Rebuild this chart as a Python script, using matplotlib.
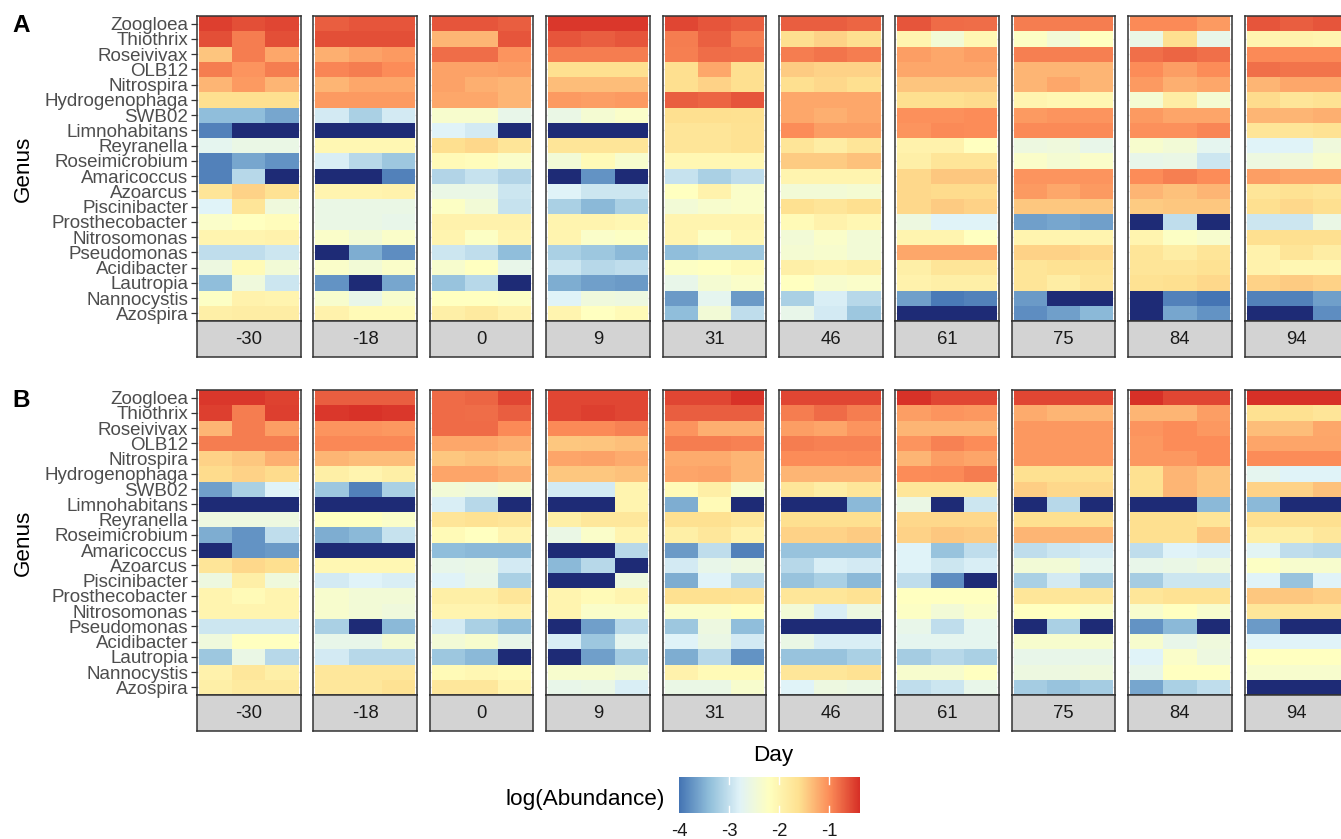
import numpy as np
import matplotlib
matplotlib.use("Agg")
import matplotlib.pyplot as plt
from matplotlib.colors import LinearSegmentedColormap, Normalize

plt.rcParams["font.family"] = ["Liberation Sans", "DejaVu Sans"]

genera = ["Zoogloea", "Thiothrix", "Roseivivax", "OLB12", "Nitrospira",
          "Hydrogenophaga", "SWB02", "Limnohabitans", "Reyranella",
          "Roseimicrobium", "Amaricoccus", "Azoarcus", "Piscinibacter",
          "Prosthecobacter", "Nitrosomonas", "Pseudomonas", "Acidibacter",
          "Lautropia", "Nannocystis", "Azospira"]
days = ["-30", "-18", "0", "9", "31", "46", "61", "75", "84", "94"]

NA = None  # genus not detected (log of zero abundance)

# ---- panel A: log(Abundance), rows follow `genera`, three replicates per day
a_m30 = [[-0.50, -0.60, -0.55], [-0.60, -0.90, -0.60], [-1.40, -0.90, -1.20],
         [-0.90, -1.05, -0.90], [-1.30, -1.10, -1.30], [-1.60, -1.60, -1.60],
         [-3.40, -3.40, -3.60], [-3.90, NA, NA], [-2.70, -2.60, -2.60],
         [-3.90, -3.60, -3.75], [-3.90, -3.10, NA], [-1.70, -1.50, -1.65],
         [-2.80, -1.70, -2.50], [-2.30, -2.20, -2.15], [-2.00, -2.00, -1.95],
         [-3.05, -3.05, -2.95], [-2.55, -2.10, -2.45], [-3.40, -2.50, -2.95],
         [-2.25, -1.95, -2.00], [-1.90, -1.85, -1.85]]
a_m18 = [[-0.70, -0.65, -0.65], [-0.60, -0.60, -0.60], [-1.25, -1.15, -1.10],
         [-0.95, -0.90, -1.00], [-1.30, -1.20, -1.20], [-1.10, -1.10, -1.10],
         [-2.90, -3.20, -2.90], [NA, NA, NA], [-2.05, -2.05, -2.05],
         [-2.85, -3.10, -3.30], [NA, NA, -3.90], [-2.00, -2.00, -1.95],
         [-2.60, -2.60, -2.60], [-2.60, -2.60, -2.65], [-2.30, -2.45, -2.30],
         [NA, -3.55, -3.80], [-2.30, -2.45, -2.30], [-3.75, NA, -3.60],
         [-2.35, -2.65, -2.35], [-1.95, -2.10, -2.10]]
a_0 = [[-0.65, -0.65, -0.70], [-1.30, -1.30, -0.65], [-0.80, -0.80, -1.05],
       [-1.15, -1.15, -1.12], [-1.15, -1.25, -1.30], [-1.20, -1.20, -1.30],
       [-2.35, -2.35, -2.65], [-2.80, -2.90, NA], [-1.60, -1.55, -1.70],
       [-2.10, -2.15, -2.30], [-3.15, -3.00, -3.15], [-2.60, -2.60, -2.95],
       [-2.25, -2.45, -3.00], [-1.95, -1.95, -1.95], [-2.00, -2.25, -2.00],
       [-2.95, -3.05, -3.40], [-2.35, -2.20, -2.65], [-3.35, -3.10, NA],
       [-2.20, -2.20, -2.25], [-1.90, -1.80, -1.95]]
a_9 = [[-0.45, -0.45, -0.45], [-0.65, -0.70, -0.65], [-0.90, -0.90, -0.90],
       [-1.60, -1.60, -1.60], [-1.35, -1.35, -1.35], [-1.10, -1.12, -1.10],
       [-2.60, -2.40, -2.30], [NA, NA, NA], [-1.70, -1.70, -1.70],
       [-2.45, -2.10, -2.35], [NA, -3.75, NA], [-2.80, -2.95, -2.95],
       [-3.20, -3.45, -3.20], [-2.00, -2.00, -2.05], [-2.00, -2.30, -2.25],
       [-3.20, -3.30, -3.45], [-2.95, -3.10, -3.05], [-3.55, -3.65, -3.70],
       [-2.80, -2.50, -2.55], [-2.00, -2.20, -2.10]]
a_31 = [[-0.55, -0.65, -0.70], [-0.90, -0.72, -0.90], [-0.92, -0.80, -0.82],
        [-1.60, -1.20, -1.60], [-1.60, -1.50, -1.60], [-0.70, -0.75, -0.65],
        [-1.60, -1.60, -1.62], [-1.70, -1.70, -1.65], [-1.70, -1.70, -1.65],
        [-2.05, -2.05, -2.05], [-3.00, -3.20, -3.05], [-2.20, -1.95, -2.30],
        [-2.45, -2.35, -2.30], [-2.00, -2.00, -2.00], [-2.00, -2.25, -2.05],
        [-3.40, -3.30, -3.30], [-2.25, -2.20, -2.10], [-2.65, -2.40, -2.30],
        [-3.70, -2.70, -3.70], [-3.40, -2.45, -3.05]]
a_46 = [[-0.70, -0.70, -0.75], [-1.60, -1.50, -1.60], [-0.90, -0.85, -0.90],
        [-1.45, -1.50, -1.50], [-1.60, -1.55, -1.60], [-1.20, -1.20, -1.20],
        [-1.20, -1.25, -1.20], [-1.00, -1.12, -1.12], [-1.70, -1.85, -1.70],
        [-1.45, -1.45, -1.38], [-2.00, -2.00, -2.00], [-2.45, -2.45, -2.40],
        [-1.62, -1.70, -1.60], [-2.10, -1.95, -2.05], [-2.45, -2.30, -2.45],
        [-2.40, -2.35, -2.45], [-1.90, -1.95, -1.90], [-2.20, -2.35, -2.30],
        [-3.20, -2.85, -3.10], [-2.65, -2.90, -3.30]]
a_61 = [[-0.65, -0.78, -0.80], [-2.00, -2.45, -2.05], [-1.12, -1.20, -1.12],
        [-1.20, -1.20, -1.20], [-1.40, -1.40, -1.40], [-1.60, -1.60, -1.58],
        [-1.02, -1.02, -1.00], [-1.05, -0.98, -1.00], [-1.95, -1.95, -2.20],
        [-1.90, -1.70, -1.70], [-1.55, -1.42, -1.42], [-1.55, -1.58, -1.58],
        [-1.55, -1.45, -1.50], [-2.55, -2.80, -2.80], [-2.00, -2.00, -2.20],
        [-1.20, -1.20, -1.20], [-1.90, -1.70, -1.70], [-1.95, -1.90, -1.90],
        [-3.65, -3.95, -3.90], [NA, NA, NA]]
a_75 = [[-0.90, -0.90, -0.90], [-2.25, -2.45, -2.20], [-0.92, -0.92, -0.92],
        [-1.30, -1.30, -1.30], [-1.30, -1.20, -1.30], [-2.00, -2.05, -2.05],
        [-1.10, -1.05, -1.05], [-0.98, -0.98, -0.98], [-2.55, -2.50, -2.65],
        [-2.30, -2.40, -2.30], [-1.05, -1.05, -1.05], [-1.10, -1.20, -1.10],
        [-1.42, -1.42, -1.42], [-3.65, -3.60, -3.65], [-2.00, -2.00, -2.00],
        [-1.50, -1.50, -1.55], [-1.70, -1.65, -1.65], [-1.70, -1.85, -1.70],
        [-3.70, NA, NA], [-3.80, -3.65, -3.45]]
a_84 = [[-0.98, -0.98, -1.10], [-2.60, -1.60, -2.65], [-0.82, -0.75, -0.82],
        [-1.00, -1.12, -1.00], [-1.10, -1.25, -1.20], [-2.40, -1.85, -2.40],
        [-1.10, -1.18, -1.18], [-1.02, -1.02, -0.95], [-2.35, -2.45, -2.70],
        [-2.65, -2.60, -2.95], [-1.00, -0.92, -1.00], [-1.30, -1.38, -1.30],
        [-1.45, -1.42, -1.42], [NA, -3.05, NA], [-2.00, -2.25, -2.35],
        [-1.70, -1.85, -1.70], [-1.70, -1.70, -1.65], [-1.65, -1.60, -1.55],
        [NA, -3.90, -4.00], [NA, -3.60, -3.75]]
a_94 = [[-0.65, -0.70, -0.65], [-2.00, -1.95, -2.00], [-0.98, -0.98, -0.98],
        [-0.82, -0.85, -0.85], [-1.30, -1.20, -1.20], [-1.58, -1.70, -1.65],
        [-1.30, -1.30, -1.25], [-1.70, -1.70, -1.65], [-2.80, -2.80, -2.50],
        [-2.55, -2.50, -2.35], [-1.12, -1.18, -1.18], [-1.70, -1.65, -1.70],
        [-1.60, -1.55, -1.60], [-2.95, -2.95, -2.60], [-1.60, -1.60, -1.60],
        [-1.95, -1.70, -1.85], [-1.95, -2.05, -2.05], [-1.50, -1.45, -1.50],
        [-3.90, -3.90, -3.65], [NA, NA, -3.80]]

# ---- panel B
b_m30 = [[-0.45, -0.45, -0.52], [-0.50, -0.90, -0.50], [-1.30, -0.90, -1.12],
         [-0.90, -0.90, -0.90], [-1.50, -1.42, -1.25], [-1.58, -1.50, -1.58],
         [-3.65, -3.20, -2.80], [NA, NA, NA], [-2.55, -2.55, -2.55],
         [-3.55, -3.75, -3.05], [NA, -3.75, -3.70], [-1.70, -1.55, -1.60],
         [-2.55, -1.90, -2.50], [-2.00, -2.10, -2.00], [-2.00, -2.00, -2.00],
         [-2.95, -2.95, -2.95], [-2.50, -2.20, -2.20], [-3.30, -2.60, -3.10],
         [-1.95, -1.75, -1.90], [-1.90, -1.80, -1.80]]
b_m18 = [[-0.70, -0.70, -0.70], [-0.45, -0.42, -0.45], [-1.05, -1.05, -1.08],
         [-0.97, -0.97, -0.97], [-1.30, -1.35, -1.35], [-1.88, -2.00, -1.88],
         [-3.30, -3.90, -3.20], [NA, NA, NA], [-2.20, -2.20, -2.30],
         [-3.55, -3.45, -3.00], [NA, NA, NA], [-2.05, -2.05, -2.05],
         [-2.90, -2.80, -2.85], [-2.35, -2.45, -2.45], [-2.35, -2.45, -2.50],
         [-3.20, NA, -3.45], [-2.65, -2.65, -2.40], [-2.90, -3.10, -3.10],
         [-1.75, -1.75, -1.75], [-1.75, -1.75, -1.65]]
b_0 = [[-0.78, -0.75, -0.55], [-0.78, -0.80, -0.70], [-0.78, -0.78, -0.98],
       [-1.20, -1.20, -1.25], [-1.42, -1.38, -1.42], [-1.18, -1.18, -1.25],
       [-2.45, -2.50, -2.40], [-2.85, -3.10, NA], [-1.70, -1.65, -1.70],
       [-2.10, -2.20, -2.00], [-3.40, -3.45, -3.45], [-2.65, -2.60, -2.90],
       [-2.80, -2.65, -3.20], [-1.88, -1.88, -1.72], [-2.00, -2.00, -1.95],
       [-2.90, -3.20, -3.40], [-2.45, -2.35, -2.65], [-3.30, -3.45, NA],
       [-2.10, -2.05, -2.10], [-1.75, -1.75, -2.00]]
b_9 = [[-0.55, -0.55, -0.55], [-0.55, -0.50, -0.55], [-0.98, -0.98, -0.93],
       [-1.42, -1.40, -1.37], [-1.18, -1.15, -1.22], [-1.42, -1.42, -1.38],
       [-2.90, -2.90, -2.00], [NA, NA, -2.00], [-1.88, -1.75, -1.75],
       [-2.60, -2.30, -2.00], [NA, NA, -3.10], [-3.45, -3.10, NA],
       [NA, NA, -2.55], [-2.00, -2.10, -2.00], [-2.00, -2.30, -2.30],
       [NA, -3.65, -3.10], [-2.85, -3.30, -2.70], [NA, -3.65, -3.25],
       [-2.35, -2.35, -2.45], [-2.65, -2.60, -2.85]]
b_31 = [[-0.55, -0.55, -0.42], [-0.70, -0.70, -0.70], [-1.05, -1.25, -1.25],
        [-0.90, -0.90, -0.93], [-1.22, -1.22, -1.30], [-1.18, -1.15, -1.30],
        [-2.10, -1.88, -2.35], [-3.55, -2.10, NA], [-1.62, -1.62, -1.72],
        [-1.88, -1.75, -1.95], [-3.70, -3.05, -3.90], [-2.90, -2.65, -2.55],
        [-3.55, -2.80, -3.10], [-1.62, -1.62, -1.65], [-2.30, -2.30, -2.20],
        [-3.30, -2.55, -3.40], [-2.80, -2.60, -2.90], [-3.55, -3.10, -3.75],
        [-1.95, -2.10, -2.10], [-2.60, -2.60, -2.35]]
b_46 = [[-0.55, -0.55, -0.55], [-0.90, -0.78, -0.90], [-1.12, -1.18, -1.05],
        [-0.90, -0.93, -0.93], [-1.00, -1.00, -0.98], [-1.30, -1.30, -1.30],
        [-1.72, -1.85, -1.72], [NA, NA, -3.45], [-1.60, -1.60, -1.60],
        [-1.50, -1.50, -1.45], [-3.35, -3.35, -3.35], [-3.10, -2.85, -2.90],
        [-3.35, -3.20, -3.45], [-1.72, -1.72, -1.65], [-2.45, -2.85, -2.55],
        [NA, NA, NA], [-2.60, -2.85, -2.85], [-3.35, -3.35, -3.20],
        [-1.72, -1.72, -1.65], [-2.80, -2.55, -2.60]]
b_61 = [[-0.42, -0.55, -0.55], [-1.12, -1.05, -1.08], [-1.30, -1.30, -1.30],
        [-1.05, -0.93, -1.00], [-1.30, -1.12, -1.18], [-1.00, -0.98, -0.90],
        [-1.72, -1.72, -1.72], [-2.60, NA, -2.95], [-1.55, -1.55, -1.55],
        [-1.50, -1.42, -1.45], [-2.80, -3.35, -3.05], [-2.80, -2.95, -2.85],
        [-3.05, -3.80, NA], [-2.20, -2.20, -2.20], [-2.25, -2.45, -2.30],
        [-2.65, -3.05, -2.70], [-2.70, -2.70, -2.70], [-3.25, -3.10, -3.20],
        [-2.35, -2.35, -2.20], [-3.05, -2.95, -2.65]]
b_75 = [[-0.55, -0.55, -0.55], [-1.22, -1.30, -1.30], [-1.08, -1.08, -1.08],
        [-1.08, -1.08, -1.08], [-1.08, -1.08, -1.08], [-1.62, -1.62, -1.62],
        [-1.47, -1.55, -1.55], [NA, -3.10, NA], [-1.60, -1.60, -1.60],
        [-1.30, -1.30, -1.30], [-3.05, -2.95, -2.90], [-2.45, -2.45, -2.70],
        [-3.20, -2.90, -3.25], [-1.72, -1.72, -1.72], [-2.20, -2.20, -2.30],
        [NA, -3.20, NA], [-2.35, -2.35, -2.35], [-2.65, -2.65, -2.65],
        [-2.55, -2.55, -2.50], [-3.25, -3.35, -3.25]]
b_84 = [[-0.35, -0.55, -0.55], [-1.30, -1.30, -1.12], [-1.05, -1.00, -1.08],
        [-1.08, -1.00, -1.00], [-1.08, -1.08, -1.00], [-1.62, -1.30, -1.40],
        [-1.62, -1.30, -1.40], [NA, NA, -3.45], [-1.60, -1.60, -1.70],
        [-1.60, -1.60, -1.42], [-3.05, -2.80, -2.85], [-2.65, -2.60, -2.50],
        [-3.25, -2.95, -2.95], [-1.72, -1.65, -1.65], [-2.35, -2.20, -2.35],
        [-3.75, -3.45, NA], [-2.35, -2.65, -2.50], [-2.80, -2.30, -2.55],
        [-2.65, -2.20, -2.20], [-3.60, -3.20, -3.05]]
b_94 = [[-0.35, -0.35, -0.40], [-1.62, -1.62, -1.70], [-1.35, -1.35, -1.20],
        [-1.18, -1.18, -1.18], [-1.00, -1.00, -1.00], [-2.70, -2.80, -2.80],
        [-1.50, -1.50, -1.38], [-3.45, NA, NA], [-1.60, -1.60, -1.60],
        [-1.88, -1.88, -1.75], [-2.75, -3.05, -3.10], [-2.25, -2.35, -2.35],
        [-2.80, -3.35, -2.80], [-1.42, -1.42, -1.47], [-1.72, -1.72, -1.72],
        [-3.70, NA, NA], [-2.80, -2.80, -2.80], [-2.20, -2.20, -2.20],
        [-2.35, -2.35, -2.35], [NA, NA, NA]]

panel_a = [a_m30, a_m18, a_0, a_9, a_31, a_46, a_61, a_75, a_84, a_94]
panel_b = [b_m30, b_m18, b_0, b_9, b_31, b_46, b_61, b_75, b_84, b_94]

# ---- colour scale (7-class RdYlBu, reversed) with a dark fill for absent genera
VMIN, VMAX = -4.0, -0.4
cmap = LinearSegmentedColormap.from_list(
    "rdylbu7", ["#4575b4", "#91bfdb", "#e0f3f8", "#ffffbf",
                "#fee090", "#fc8d59", "#d73027"], N=256)
cmap.set_bad("#1e2b76")
norm = Normalize(VMIN, VMAX)

W, H = 1341, 839
fig = plt.figure(figsize=(W / 100, H / 100), dpi=100)
fig.patch.set_facecolor("white")


def px_axes(x0, y0, w, h):
    return fig.add_axes([x0 / W, 1 - (y0 + h) / H, w / W, h / H])


FACET_X0, FACET_STEP, FACET_W = 197.0, 116.4, 103.5
HEAT_H, STRIP_H = 305.0, 36.0
BORDER = "#333333"
TXT = "#4d4d4d"


def to_array(rows):
    arr = np.array([[np.nan if v is None else v for v in r] for r in rows], float)
    return np.ma.masked_invalid(arr)


def draw_panel(top, panel, letter):
    for i, (day, rows) in enumerate(zip(days, panel)):
        x0 = FACET_X0 + i * FACET_STEP
        ax = px_axes(x0, top, FACET_W, HEAT_H)
        ax.set_facecolor("white")
        for y in range(len(genera)):
            ax.axhline(y, color="#ebebeb", lw=1.0, zorder=0)
        ax.pcolormesh(np.arange(4) - 0.5, np.arange(len(genera) + 1) - 0.5,
                      to_array(rows), cmap=cmap, norm=norm, zorder=1)
        ax.set_xlim(-0.56, 2.56)
        ax.set_ylim(len(genera) - 0.5, -0.5)
        ax.set_xticks([])
        for s in ax.spines.values():
            s.set_color(BORDER)
            s.set_linewidth(1.1)
            s.set_zorder(3)
        if i == 0:
            ax.set_yticks(range(len(genera)))
            ax.set_yticklabels(genera, fontsize=13.5, color=TXT)
            ax.tick_params(axis="y", length=4.2, width=0.9, color=BORDER, pad=2.2)
        else:
            ax.set_yticks([])

        sax = px_axes(x0, top + HEAT_H, FACET_W, STRIP_H)
        sax.set_facecolor("#d3d3d3")
        sax.set_xticks([])
        sax.set_yticks([])
        for s in sax.spines.values():
            s.set_color(BORDER)
            s.set_linewidth(1.1)
        sax.text(0.5, 0.5, day, ha="center", va="center", fontsize=13.3,
                 color="#1a1a1a", transform=sax.transAxes)

    fig.text(23 / W, 1 - (top + HEAT_H / 2) / H, "Genus", rotation=90,
             ha="center", va="center", fontsize=16.2, color="black")
    fig.text(12 / W, 1 - (top + 10) / H, letter, ha="left", va="center",
             fontsize=17.5, fontweight="bold", color="black")


draw_panel(16, panel_a, "A")
draw_panel(390, panel_b, "B")

fig.text(773 / W, 1 - 755 / H, "Day", ha="center", va="center",
         fontsize=16.2, color="black")

# ---- colour bar
cb_x0, cb_y0, cb_w, cb_h = 679, 777, 180, 36
cax = px_axes(cb_x0, cb_y0, cb_w, cb_h)
grad = np.linspace(VMIN, VMAX, 300).reshape(1, -1)
cax.imshow(grad, cmap=cmap, norm=norm, aspect="auto",
           extent=[VMIN, VMAX, 0, 1], interpolation="bilinear")
cax.set_xlim(VMIN, VMAX)
cax.set_ylim(0, 1)
cax.axis("off")
cb_ticks = [-4, -3, -2, -1]
for t in cb_ticks:
    if t > VMIN:
        cax.plot([t, t], [0, 0.2], color="white", lw=1.0)
        cax.plot([t, t], [0.8, 1], color="white", lw=1.0)
    fig.text((cb_x0 + (t - VMIN) / (VMAX - VMIN) * cb_w) / W, 1 - 832 / H,
             str(t), ha="center", va="center", fontsize=13.3, color="#1a1a1a")
fig.text(665 / W, 1 - 800 / H, "log(Abundance)", ha="right", va="center",
         fontsize=16.2, color="black")

fig.savefig("out.png", dpi=100)
